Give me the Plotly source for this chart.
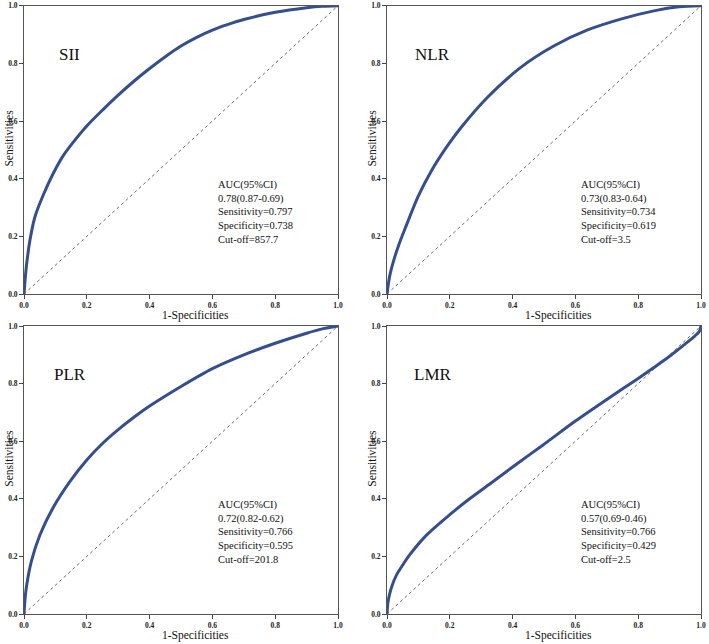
import plotly.graph_objects as go

# ---- data ----
panel_names = ["SII", "NLR", "PLR", "LMR"]

sii_fpr = [0, 0.004, 0.008, 0.019, 0.035, 0.062, 0.093, 0.125, 0.157, 0.2, 0.25, 0.3, 0.35, 0.4, 0.45, 0.5, 0.55, 0.6, 0.65, 0.7, 0.8, 0.9, 0.95, 1.0]
sii_tpr = [0, 0.055, 0.10, 0.187, 0.268, 0.345, 0.418, 0.48, 0.527, 0.583, 0.638, 0.69, 0.738, 0.782, 0.823, 0.86, 0.89, 0.915, 0.935, 0.952, 0.977, 0.993, 0.998, 1.0]

nlr_fpr = [0, 0.005, 0.01, 0.021, 0.04, 0.058, 0.1, 0.143, 0.19, 0.234, 0.318, 0.425, 0.531, 0.637, 0.75, 0.85, 0.93, 1.0]
nlr_tpr = [0, 0.04, 0.07, 0.115, 0.178, 0.228, 0.34, 0.43, 0.51, 0.575, 0.68, 0.785, 0.86, 0.915, 0.955, 0.982, 0.996, 1.0]

plr_fpr = [0, 0.004, 0.0085, 0.024, 0.051, 0.093, 0.146, 0.2, 0.25, 0.3, 0.35, 0.4, 0.5, 0.6, 0.7, 0.8, 0.9, 0.95, 1.0]
plr_tpr = [0, 0.06, 0.10, 0.185, 0.275, 0.37, 0.46, 0.535, 0.592, 0.64, 0.683, 0.722, 0.79, 0.852, 0.90, 0.94, 0.975, 0.99, 1.0]

lmr_fpr = [0, 0.003, 0.0085, 0.015, 0.03, 0.05, 0.072, 0.125, 0.2, 0.263, 0.338, 0.412, 0.497, 0.6, 0.7, 0.8, 0.85, 0.9, 0.95, 0.98, 0.995, 1.0]
lmr_tpr = [0, 0.04, 0.07, 0.095, 0.135, 0.17, 0.205, 0.273, 0.345, 0.40, 0.46, 0.52, 0.587, 0.67, 0.745, 0.818, 0.856, 0.895, 0.938, 0.965, 0.982, 1.0]

auc_text = ["0.78(0.87-0.69)", "0.73(0.83-0.64)", "0.72(0.82-0.62)", "0.57(0.69-0.46)"]
sensitivity = ["0.797", "0.734", "0.766", "0.766"]
specificity = ["0.738", "0.619", "0.595", "0.429"]
cutoff = ["857.7", "3.5", "201.8", "2.5"]

tick_vals = [0, 0.2, 0.4, 0.6, 0.8, 1.0]
tick_text = ["0.0", "0.2", "0.4", "0.6", "0.8", "1.0"]

curves = [(sii_fpr, sii_tpr), (nlr_fpr, nlr_tpr), (plr_fpr, plr_tpr), (lmr_fpr, lmr_tpr)]

# ---- layout geometry ----
W, H = 709, 644
x_domains = [[24 / W, 338 / W], [387 / W, 701 / W]]
y_domains = [[1 - 294 / H, 1 - 5.7 / H], [1 - 614 / H, 1 - 326 / H]]

FONT = "Liberation Serif"
CURVE_COLOR = "#344E8E"

fig = go.Figure()
layout = dict(
    width=W, height=H, margin=dict(l=0, r=0, t=0, b=0, autoexpand=False),
    paper_bgcolor="white", plot_bgcolor="white", showlegend=False,
    font=dict(family=FONT, color="#222"),
)
annotations = []

for i, name in enumerate(panel_names):
    row, col = divmod(i, 2)
    sfx = "" if i == 0 else str(i + 1)
    xa, ya = "x" + sfx, "y" + sfx
    fpr, tpr = curves[i]
    fig.add_trace(go.Scatter(x=[0, 1], y=[0, 1], mode="lines", xaxis=xa, yaxis=ya,
                             line=dict(color="#444", width=0.8, dash="dot"), hoverinfo="skip"))
    fig.add_trace(go.Scatter(x=fpr, y=tpr, mode="lines", xaxis=xa, yaxis=ya,
                             line=dict(color=CURVE_COLOR, width=3, shape="spline", smoothing=0.8)))
    axis_common = dict(range=[0, 1], showgrid=False, zeroline=False, showline=True, mirror=True,
                       linecolor="#555", linewidth=1, ticks="outside", ticklen=4, tickwidth=1,
                       tickcolor="#444", tickvals=tick_vals, ticktext=tick_text,
                       tickfont=dict(family=FONT, size=7.5, color="#222", weight="bold"),
                       fixedrange=True, automargin=False)
    layout["xaxis" + sfx] = dict(axis_common, domain=x_domains[col], anchor=ya)
    layout["yaxis" + sfx] = dict(axis_common, domain=y_domains[row], anchor=xa)

    xd = xa + " domain"
    yd = ya + " domain"
    # panel label
    annotations.append(dict(text=name, x=0.145, y=0.83, xref=xd, yref=yd, showarrow=False,
                            xanchor="center", yanchor="middle",
                            font=dict(family=FONT, size=17, color="#111")))
    # stats block
    stats = "<br>".join(["AUC(95%CI)", auc_text[i], "Sensitivity=" + sensitivity[i],
                         "Specificity=" + specificity[i], "Cut-off=" + cutoff[i]])
    annotations.append(dict(text=stats, x=0.61, y=0.405, xref=xd, yref=yd, showarrow=False,
                            xanchor="left", yanchor="top", align="left",
                            font=dict(family=FONT, size=10.5, color="#111")))
    # axis titles
    annotations.append(dict(text="1-Specificities", x=0.545, y=-0.074, xref=xd, yref=yd,
                            showarrow=False, xanchor="center", yanchor="middle",
                            font=dict(family=FONT, size=11.5, color="#111")))
    annotations.append(dict(text="Sensitivities", x=-0.047, y=0.54, xref=xd, yref=yd,
                            showarrow=False, xanchor="center", yanchor="middle", textangle=-90,
                            font=dict(family=FONT, size=11.5, color="#111")))

layout["annotations"] = annotations
fig.update_layout(**layout)
fig.write_html("out.html", config={"displayModeBar": False},
               post_script="document.body.style.margin='0';document.body.style.overflow='hidden';")
